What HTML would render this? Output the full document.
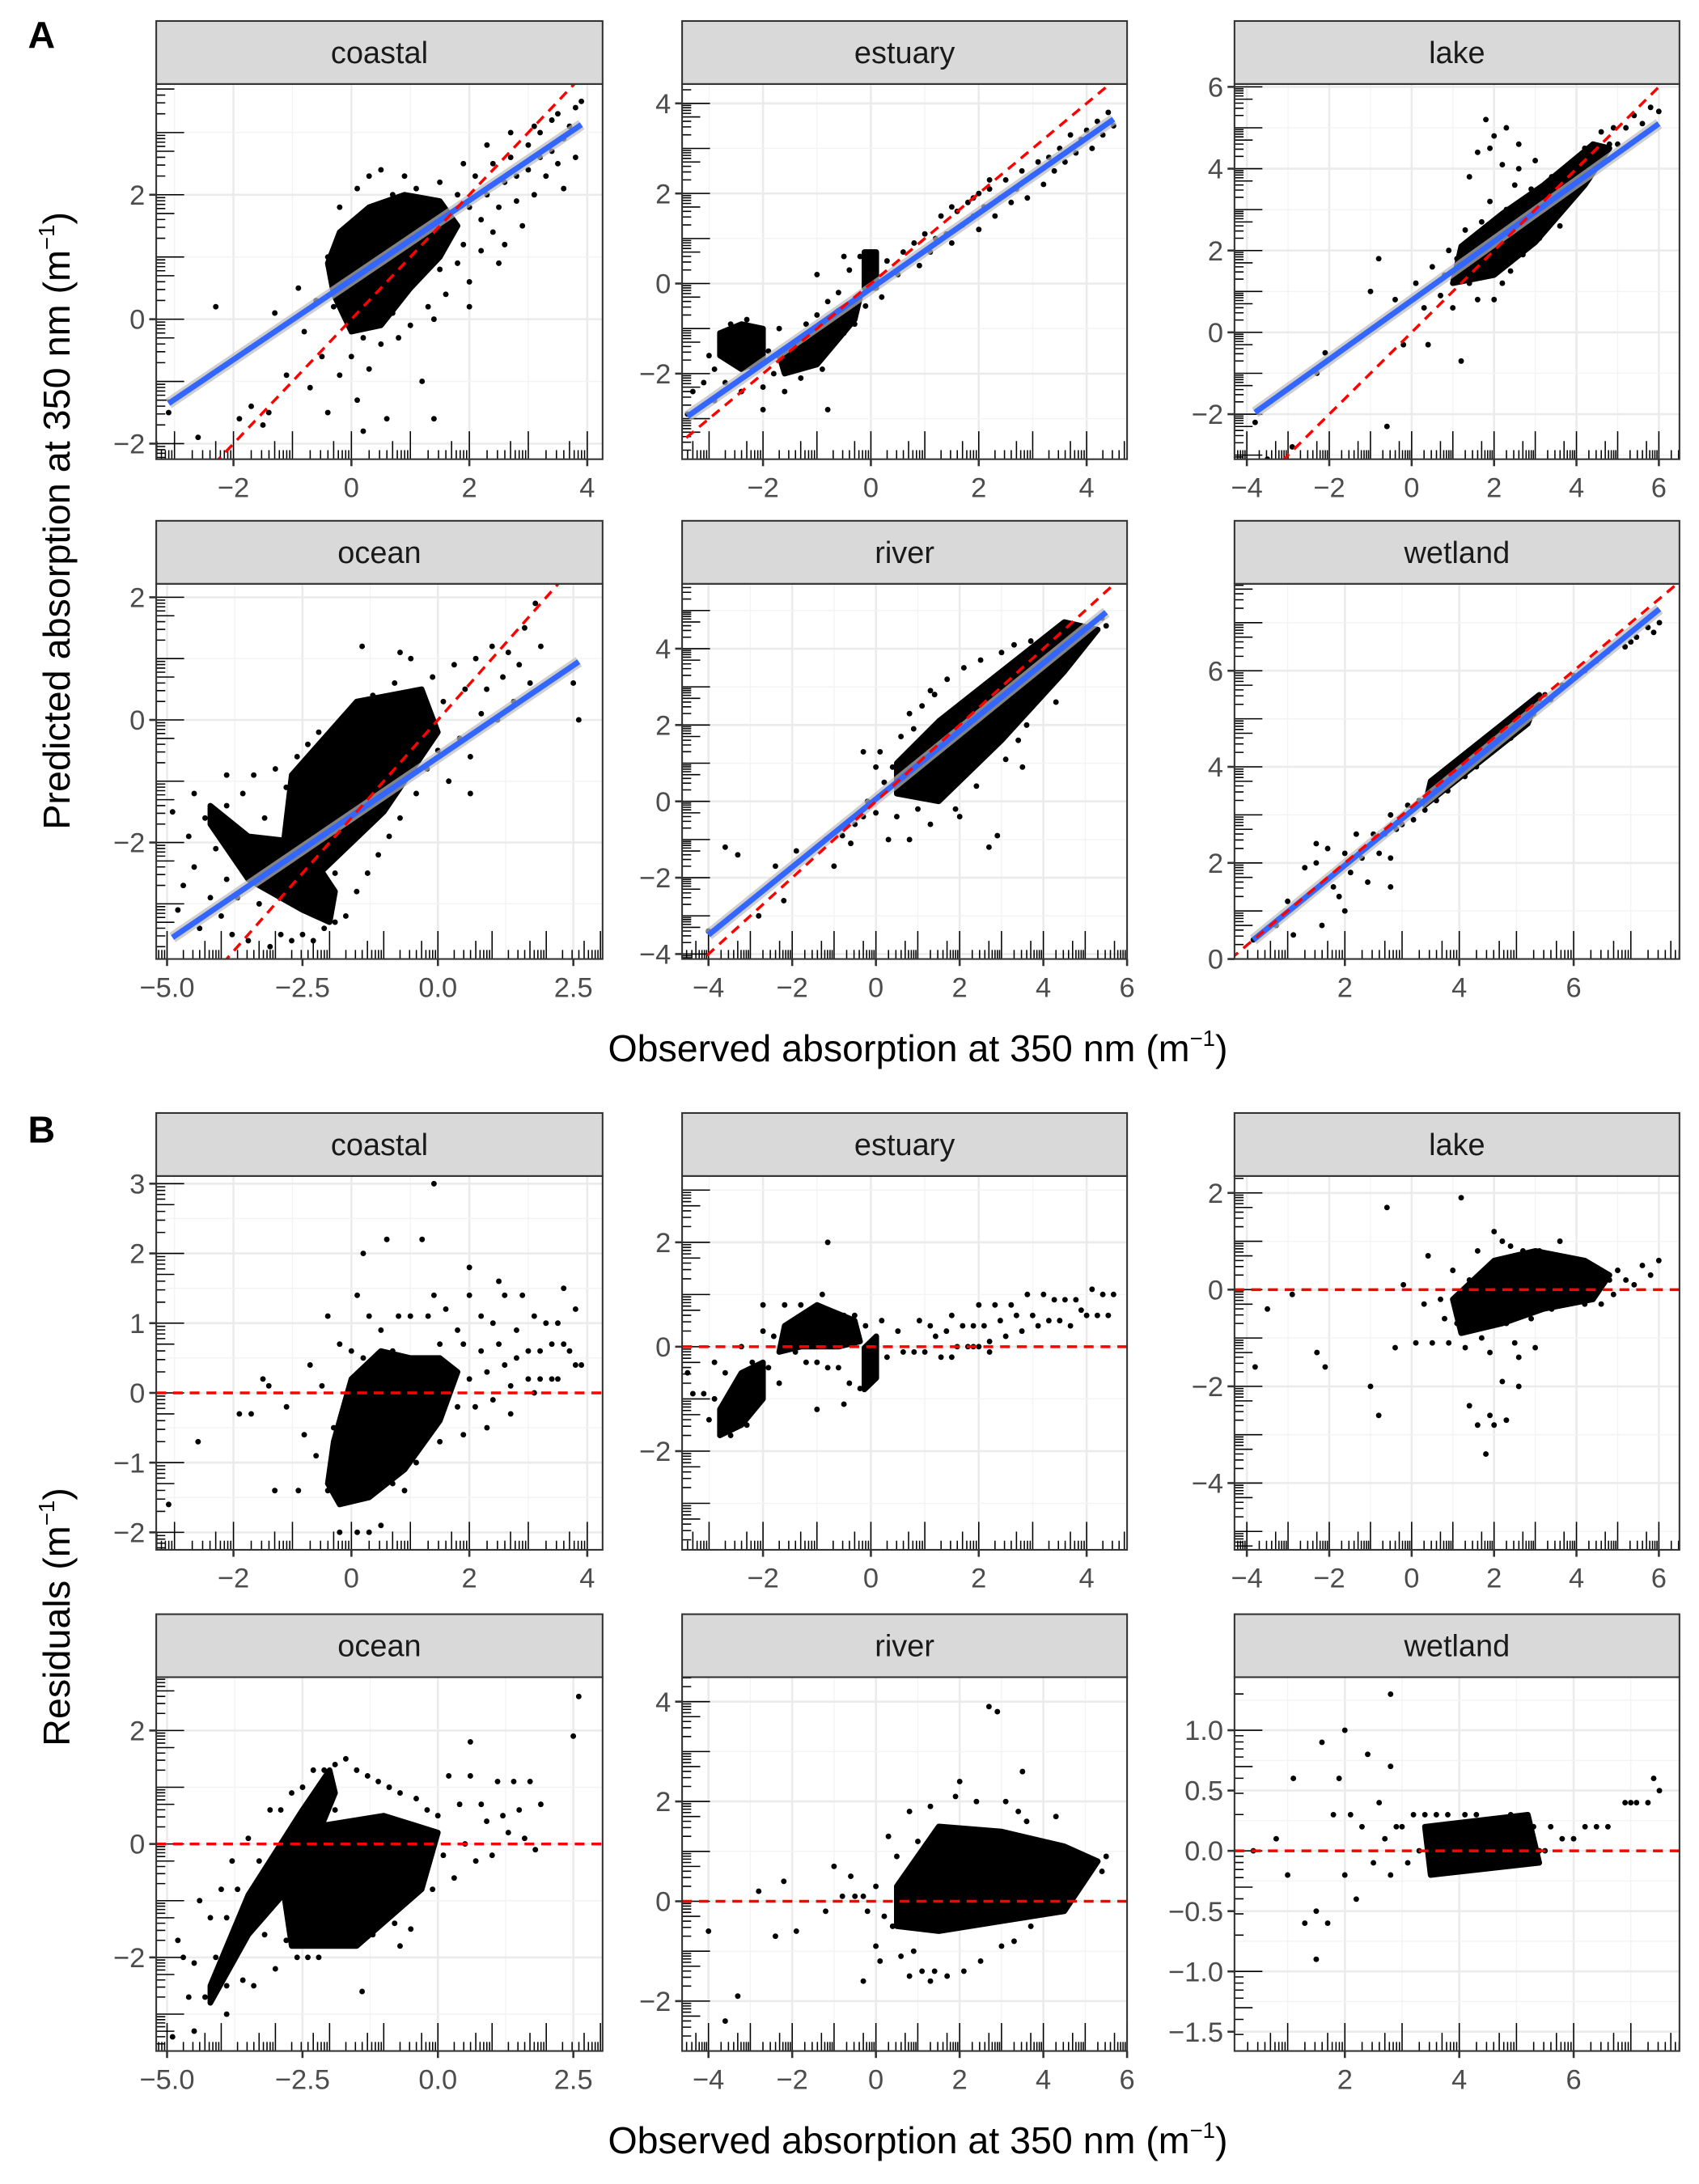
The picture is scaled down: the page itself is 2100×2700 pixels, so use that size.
<!DOCTYPE html>
<html><head><meta charset="utf-8">
<style>
html,body{margin:0;padding:0;background:#fff;width:2100px;height:2700px;overflow:hidden;}
svg{display:block;}
text{font-family:"Liberation Sans",sans-serif;}
</style></head>
<body>
<svg id="fig" width="2100" height="2700" viewBox="0 0 1218 1560" preserveAspectRatio="none" xmlns="http://www.w3.org/2000/svg">
<text x="20" y="34" font-size="27" font-weight="bold">A</text>
<text x="20" y="816" font-size="27" font-weight="bold">B</text>
<text x="658" y="758" font-size="27" text-anchor="middle">Observed absorption at 350 nm (m<tspan font-size="16" dy="-11">−1</tspan><tspan dy="11">)</tspan></text>
<text x="658" y="1538" font-size="27" text-anchor="middle">Observed absorption at 350 nm (m<tspan font-size="16" dy="-11">−1</tspan><tspan dy="11">)</tspan></text>
<text transform="translate(50,372) rotate(-90)" font-size="27" text-anchor="middle">Predicted absorption at 350 nm (m<tspan font-size="16" dy="-11">−1</tspan><tspan dy="11">)</tspan></text>
<text transform="translate(50,1155) rotate(-90)" font-size="27" text-anchor="middle">Residuals (m<tspan font-size="16" dy="-11">−1</tspan><tspan dy="11">)</tspan></text>
<g id="panels"></g>
</svg>
<script>
// ---- data (observed, predicted) ----
const categories = ["coastal","estuary","lake","ocean","river","wetland"];
const coastalPts = [[-3.1,-1.5],[-2.6,-1.9],[-2.3,0.2],[-1.9,-1.6],[-1.7,-1.4],[-1.5,-1.7],[-1.4,-1.5],[-1.3,0.1],[-1.1,-0.9],[-0.9,0.5],[-0.8,-0.2],[-0.7,-1.1],[-0.6,0.3],[-0.5,-0.6],[-0.4,1.0],[-0.4,-1.5],[-0.3,0.2],[-0.2,1.8],[-0.2,-0.9],[-0.1,0.4],[0,-0.6],[0,1.5],[0.1,-1.3],[0.1,2.1],[0.2,-0.3],[0.3,2.3],[0.3,-0.8],[0.4,0.0],[0.5,2.4],[0.5,-0.4],[0.6,-1.6],[0.7,2.0],[0.7,0.1],[0.8,-0.3],[0.9,2.3],[0.9,0.4],[1.0,-0.1],[1.1,2.1],[1.1,0.6],[1.2,-1.0],[1.3,0.2],[1.3,1.9],[1.4,-1.6],[1.5,0.8],[1.5,2.2],[1.6,0.4],[1.7,1.6],[1.8,0.9],[1.8,2.0],[1.9,1.2],[2.0,0.6],[2.0,1.8],[2.1,2.3],[2.2,1.1],[2.2,1.6],[2.3,2.0],[2.4,1.4],[2.4,2.5],[2.5,1.8],[2.6,2.2],[2.6,1.2],[2.7,2.6],[2.8,1.9],[2.8,2.3],[2.9,1.5],[3.0,2.4],[3.0,2.8],[3.1,2.0],[3.2,2.6],[3.2,3.0],[3.3,2.3],[3.4,2.7],[3.4,3.2],[3.5,2.5],[3.6,2.9],[3.6,2.1],[3.7,3.1],[3.8,2.6],[3.8,3.4],[3.9,3.5],[3.5,3.3],[3.1,3.1],[2.7,3.0],[2.3,2.8],[1.9,2.5],[1.6,1.2],[1.2,1.4],[0.8,1.4],[2.0,0.2],[2.5,0.9],[1.4,0.0],[0.2,-1.8]];
const estuaryPts = [[-3.4,-2.9],[-3.3,-2.4],[-3.1,-2.2],[-3.0,-1.6],[-2.9,-2.6],[-2.9,-1.9],[-2.8,-1.3],[-2.7,-2.2],[-2.6,-0.9],[-2.5,-1.6],[-2.4,-2.4],[-2.3,-0.8],[-2.2,-1.9],[-2.1,-1.2],[-2.0,-2.3],[-1.9,-1.5],[-1.8,-2.0],[-1.7,-1.0],[-1.6,-2.4],[-1.5,-1.8],[-1.4,-1.3],[-1.3,-2.1],[-1.2,-0.9],[-1.1,-1.6],[-1.0,-0.7],[-0.9,-1.9],[-0.8,-0.4],[-0.7,-1.3],[-0.6,-0.2],[-0.5,-1.1],[-0.4,0.3],[-0.3,-0.9],[-0.2,0.6],[-0.1,-0.5],[0,0.7],[0.1,0.2],[0.2,-0.3],[0.3,0.5],[0.5,0.2],[0.6,0.7],[0.8,0.9],[0.9,0.4],[1.0,1.1],[1.1,0.7],[1.2,1.0],[1.3,1.5],[1.4,1.1],[1.5,0.9],[1.6,1.6],[1.7,1.3],[1.8,1.8],[1.9,1.5],[2.0,2.0],[2.0,1.2],[2.1,1.7],[2.2,2.1],[2.3,1.5],[2.4,1.9],[2.5,2.3],[2.6,1.8],[2.7,2.1],[2.8,2.5],[2.9,1.9],[3.0,2.4],[3.1,2.7],[3.2,2.2],[3.3,2.8],[3.4,2.5],[3.5,3.0],[3.6,2.7],[3.7,3.3],[3.8,2.9],[3.9,3.2],[4.0,3.4],[4.1,3.0],[4.2,3.6],[4.3,3.3],[4.4,3.8],[4.5,3.5],[1.9,1.9],[2.2,2.3],[1.5,1.7],[-0.8,-2.8],[-2.0,-2.8],[-0.5,0.6],[-1.0,0.2]];
const lakePts = [[-3.8,-2.2],[-3.5,-3.1],[-2.9,-2.8],[-2.3,-1.0],[-2.1,-0.5],[-1.0,1.0],[-0.8,1.8],[-0.6,-2.3],[-0.4,0.8],[-0.2,-0.3],[0.1,1.2],[0.3,0.6],[0.5,1.6],[0.7,0.9],[0.8,1.4],[0.9,2.0],[1.0,0.6],[1.1,1.8],[1.2,-0.7],[1.3,2.5],[1.4,1.2],[1.4,3.8],[1.5,2.0],[1.6,4.4],[1.6,0.8],[1.7,2.7],[1.8,5.2],[1.8,1.5],[1.9,3.2],[2.0,4.8],[2.0,0.8],[2.1,2.3],[2.2,4.1],[2.2,1.2],[2.3,5.0],[2.3,3.0],[2.4,1.5],[2.5,3.6],[2.5,2.5],[2.6,4.6],[2.7,1.9],[2.7,3.1],[2.8,2.2],[2.9,3.5],[3.0,2.8],[3.0,4.2],[3.1,2.3],[3.2,3.4],[3.3,2.9],[3.4,3.8],[3.5,3.1],[3.6,2.6],[3.7,3.6],[3.8,3.9],[3.9,3.3],[4.0,4.2],[4.1,3.8],[4.2,4.5],[4.3,3.9],[4.4,4.6],[4.5,4.2],[4.6,4.9],[4.7,4.4],[4.8,4.6],[4.9,5.0],[5.0,4.6],[5.2,5.0],[5.4,5.3],[5.6,5.1],[5.8,5.5],[6.0,5.4],[0.4,-0.3],[2.6,4.0],[1.9,4.5]];
const oceanPts = [[-4.9,-1.5],[-4.8,-3.1],[-4.7,-2.7],[-4.6,-1.9],[-4.5,-2.4],[-4.4,-3.4],[-4.3,-1.6],[-4.2,-2.9],[-4.1,-2.1],[-4.0,-3.2],[-3.9,-1.4],[-3.9,-2.6],[-3.8,-3.5],[-3.7,-1.8],[-3.7,-2.9],[-3.6,-1.2],[-3.5,-3.6],[-3.5,-2.0],[-3.4,-0.9],[-3.3,-3.0],[-3.2,-1.6],[-3.1,-3.7],[-3.0,-0.8],[-2.9,-3.5],[-2.8,-1.1],[-2.7,-3.6],[-2.6,-0.6],[-2.5,-3.5],[-2.4,-0.4],[-2.3,-3.6],[-2.2,-0.2],[-2.1,-3.4],[-2.0,-0.9],[-1.9,-3.3],[-1.8,-0.3],[-1.7,-3.2],[-1.6,0.1],[-1.5,-2.8],[-1.4,-0.6],[-1.3,-2.5],[-1.2,0.4],[-1.1,-2.2],[-1.0,-0.1],[-0.9,-1.9],[-0.8,0.6],[-0.7,-1.6],[-0.6,-0.3],[-0.5,1.0],[-0.4,-1.2],[-0.3,0.2],[-0.2,-0.8],[-0.1,0.7],[0,-0.5],[0.1,0.3],[0.2,-1.0],[0.3,0.9],[0.4,-0.3],[0.5,0.5],[0.6,-0.6],[0.7,1.0],[0.8,0.1],[0.9,0.5],[1.0,1.2],[1.1,0.0],[1.2,0.7],[1.3,1.1],[1.4,0.3],[1.5,0.9],[1.6,1.5],[1.7,0.6],[1.8,1.9],[1.9,1.2],[2.5,0.6],[2.6,0.0],[-1.4,1.2],[-0.7,1.1],[-2.9,-2.2],[-3.3,-2.5],[-2.6,-2.8],[-1.9,-2.5],[-0.9,-1.0],[-1.6,-1.7],[-2.2,-1.3],[-1.1,-0.4],[0.6,-1.2],[-4.5,-1.2],[-3.9,-0.9]];
const riverPts = [[-4.0,-3.4],[-3.6,-1.2],[-3.3,-1.4],[-2.8,-3.0],[-2.4,-1.7],[-2.2,-2.6],[-1.9,-1.3],[-1.2,-1.0],[-1.0,-1.7],[-0.8,-0.9],[-0.6,-1.1],[-0.5,-0.6],[-0.3,-0.4],[-0.2,0.0],[0,-0.3],[0.1,1.3],[0.2,0.5],[0.3,-1.0],[0.4,0.9],[0.5,-0.4],[0.6,1.7],[0.7,0.3],[0.8,-1.0],[0.9,1.9],[1.0,-0.2],[1.1,2.5],[1.2,0.6],[1.3,-0.6],[1.4,2.8],[1.5,0.2],[1.6,1.4],[1.7,3.2],[1.8,0.6],[1.9,2.0],[2.0,-0.4],[2.1,3.5],[2.2,1.0],[2.3,2.6],[2.4,0.4],[2.5,3.7],[2.6,1.4],[2.7,-1.2],[2.8,3.0],[2.9,1.7],[3.0,3.9],[3.1,1.1],[3.2,2.4],[3.3,4.1],[3.4,1.6],[3.5,3.4],[3.6,2.0],[3.7,4.2],[3.8,2.6],[3.9,3.7],[4.0,3.0],[4.1,4.3],[4.2,3.4],[4.4,3.8],[4.6,4.2],[4.8,4.0],[5.0,4.5],[5.2,4.4],[5.4,4.8],[5.5,4.6],[2.9,-0.9],[1.9,-0.2],[3.5,0.9],[4.3,2.6],[0.0,0.9],[-0.3,1.3],[0.8,2.3],[1.3,2.9]];
const wetlandPts = [[0.4,0.4],[0.8,0.7],[1.0,1.2],[1.3,1.9],[1.5,2.0],[1.5,2.4],[1.7,2.3],[1.8,1.5],[1.9,1.3],[2.0,2.2],[2.1,1.8],[2.2,2.6],[2.3,2.1],[2.4,1.6],[2.5,2.6],[2.6,2.2],[2.7,2.6],[2.8,2.1],[2.8,3.0],[2.9,2.7],[3.0,2.8],[3.1,3.2],[3.2,2.9],[3.3,3.3],[3.4,3.1],[3.5,3.6],[3.6,3.3],[3.7,3.8],[3.8,3.5],[3.9,3.7],[4.0,4.0],[4.1,3.8],[4.2,4.2],[4.3,4.0],[4.4,4.4],[4.5,4.3],[4.6,4.6],[4.7,4.5],[4.8,4.8],[4.9,4.6],[5.0,5.0],[5.1,4.9],[5.2,5.2],[5.3,5.1],[5.4,5.4],[5.5,5.5],[5.6,5.4],[5.8,5.7],[6.0,5.9],[6.2,6.0],[6.4,6.2],[6.6,6.4],[6.9,6.5],[7.0,6.6],[7.1,6.7],[7.3,6.9],[7.5,7.0],[7.4,6.8],[1.1,0.5],[2.0,1.0],[2.8,1.5],[1.6,0.7]];
// dense-region outlines (observed, predicted)
const coastalCore = [[[-0.3,0.4],[0.0,-0.2],[0.5,-0.1],[1.0,0.5],[1.5,1.0],[1.8,1.5],[1.5,1.9],[0.9,2.0],[0.3,1.8],[-0.2,1.4],[-0.4,0.9]]];
const estuaryCore = [[[-2.8,-1.6],[-2.4,-1.9],[-2.0,-1.7],[-2.0,-1.0],[-2.4,-0.9],[-2.8,-1.1]],[[-1.6,-2.0],[-1.0,-1.8],[-0.3,-0.8],[-0.2,-0.3],[-0.6,-0.6],[-1.3,-1.3],[-1.7,-1.6]],[[-0.12,-0.1],[0.1,-0.1],[0.1,0.7],[-0.12,0.7]]];
const lakeCore = [[[1.0,1.2],[2.0,1.4],[3.0,2.2],[4.2,3.6],[4.8,4.5],[4.4,4.6],[3.2,3.6],[2.2,2.9],[1.2,2.1]]];
const oceanCore = [[[-4.2,-1.7],[-3.5,-2.6],[-2.5,-3.1],[-2.0,-3.3],[-1.9,-2.8],[-2.5,-2.0],[-3.5,-1.9],[-4.2,-1.4]],[[-2.7,-0.9],[-1.5,0.3],[-0.3,0.5],[0,-0.2],[-1.0,-1.5],[-2.3,-2.6],[-2.9,-2.4]]];
const riverCore = [[[0.5,0.2],[1.5,0.0],[3.0,1.6],[4.5,3.4],[5.3,4.5],[4.5,4.7],[3.0,3.4],[1.5,2.1],[0.5,1.0]]];
const wetlandCore = [[[3.4,3.2],[5.2,4.9],[5.4,5.5],[3.5,3.7]]];
// linear fits
const fitSlope = [0.64,0.835,0.72,0.6,0.89,0.97];
const fitIntercept = [0.63,-0.11,0.78,-0.61,0.06,0.01];
// axis limits and ticks
const xLims = [[-3.31,4.26],[-3.5,4.75],[-4.3,6.5],[-5.2,3.04],[-4.63,6.0],[0.07,7.85]];
const yLimsA = [[-2.25,3.78],[-3.9,4.43],[-3.1,6.07],[-3.9,2.22],[-4.13,5.7],[0,7.81]];
const yLimsB = [[-2.25,3.11],[-3.89,3.27],[-5.38,2.35],[-3.65,2.94],[-3.0,4.49],[-1.66,1.44]];
const xTicks = [[-2,0,2,4],[-2,0,2,4],[-4,-2,0,2,4,6],[-5,-2.5,0,2.5],[-4,-2,0,2,4,6],[2,4,6]];
const xTickLabels = [["−2","0","2","4"],["−2","0","2","4"],["−4","−2","0","2","4","6"],["−5.0","−2.5","0.0","2.5"],["−4","−2","0","2","4","6"],["2","4","6"]];
const yTicksA = [[-2,0,2],[-2,0,2,4],[-2,0,2,4,6],[-2,0,2],[-4,-2,0,2,4],[0,2,4,6]];
const yTickLabelsA = [["−2","0","2"],["−2","0","2","4"],["−2","0","2","4","6"],["−2","0","2"],["−4","−2","0","2","4"],["0","2","4","6"]];
const yTicksB = [[-2,-1,0,1,2,3],[-2,0,2],[-4,-2,0,2],[-2,0,2],[-2,0,2,4],[-1.5,-1,-0.5,0,0.5,1]];
const yTickLabelsB = [["−2","−1","0","1","2","3"],["−2","0","2"],["−4","−2","0","2"],["−2","0","2"],["−2","0","2","4"],["−1.5","−1.0","−0.5","0.0","0.5","1.0"]];

const allPts = [coastalPts,estuaryPts,lakePts,oceanPts,riverPts,wetlandPts];
const allCores = [coastalCore,estuaryCore,lakeCore,oceanCore,riverCore,wetlandCore];

// ---- layout ----
const colX = [[112,432],[489,808],[885,1204]];
const rowsA = [[60,328],[417,685]];
const rowsB = [[840,1107],[1198,1465]];
const NS = "http://www.w3.org/2000/svg";
const root = document.getElementById('panels');
function mk(tag, attrs, parent){ const e=document.createElementNS(NS,tag); for(const k in attrs) e.setAttribute(k,attrs[k]); (parent||root).appendChild(e); return e; }

function drawPanel(ci, part){
  const col = ci%3, row = Math.floor(ci/3);
  const [x0,x1] = colX[col];
  const [y0,y1] = (part==='A'?rowsA:rowsB)[row];
  const xl = xLims[ci], yl = part==='A'?yLimsA[ci]:yLimsB[ci];
  const xt = xTicks[ci], yt = part==='A'?yTicksA[ci]:yTicksB[ci];
  const xtl = xTickLabels[ci], ytl = part==='A'?yTickLabelsA[ci]:yTickLabelsB[ci];
  const sx = v => x0 + (v-xl[0])/(xl[1]-xl[0])*(x1-x0);
  const sy = v => y1 - (v-yl[0])/(yl[1]-yl[0])*(y1-y0);
  const g = mk('g',{});
  
  
  const cid = 'clip'+part+ci;
  const cp = mk('clipPath',{id:cid},g); mk('rect',{x:x0,y:y0,width:x1-x0,height:y1-y0},cp);
  const bg = mk('rect',{x:x0,y:y0,width:x1-x0,height:y1-y0,fill:'#fff'},g);
   
  const gg = mk('g',{'clip-path':'url(#'+cid+')'},g);
   
  const xs = xt[1]-xt[0], ys = yt[1]-yt[0];
  for(let v=xt[0]-xs*3; v<=xl[1]+xs; v+=xs/2){ const major = Math.abs(((v-xt[0])/xs)%1)<1e-6;
    mk('line',{x1:sx(v),x2:sx(v),y1:y0,y2:y1,stroke:major?'#ebebeb':'#f3f3f3','stroke-width':major?1.5:0.8},gg); }
  for(let v=yt[0]-ys*3; v<=yl[1]+ys; v+=ys/2){ const major = Math.abs(((v-yt[0])/ys)%1)<1e-6;
    mk('line',{y1:sy(v),y2:sy(v),x1:x0,x2:x1,stroke:major?'#ebebeb':'#f3f3f3','stroke-width':major?1.5:0.8},gg); }
  const lt = mk('g',{'clip-path':'url(#'+cid+')',stroke:'#000','stroke-width':0.9},g);
   
  const subs=[[0,20],[Math.log10(2),6.5],[Math.log10(3),6.5],[Math.log10(4),6.5],[Math.log10(5),13],[Math.log10(6),6.5],[Math.log10(7),6.5],[Math.log10(8),6.5],[Math.log10(9),6.5]];
  for(let k=Math.floor(xl[0])-1;k<=Math.ceil(xl[1]);k++) for(const [o,L] of subs){ const v=k+o; if(v<xl[0]||v>xl[1]) continue; mk('line',{x1:sx(v),x2:sx(v),y1:y1,y2:y1-L},lt); }
  for(let k=Math.floor(yl[0])-1;k<=Math.ceil(yl[1]);k++) for(const [o,L] of subs){ const v=k+o; if(v<yl[0]||v>yl[1]) continue; mk('line',{y1:sy(v),y2:sy(v),x1:x0,x2:x0+L},lt); }
  const dl = mk('g',{'clip-path':'url(#'+cid+')'},g);
  const tf = part==='A' ? (p=>[p[0],p[1]]) : (p=>[p[0],p[0]-p[1]]);
  for(const poly of allCores[ci]){
    const pts = poly.map(p=>{const q=tf(p); return sx(q[0]).toFixed(1)+','+sy(q[1]).toFixed(1);}).join(' ');
    const pg = mk('polygon',{points:pts,fill:'#000',stroke:'#000','stroke-width':4,'stroke-linejoin':'round'},dl);
     
  }
  for(const p of allPts[ci]){ const q=tf(p);
    const c = mk('circle',{cx:sx(q[0]).toFixed(1),cy:sy(q[1]).toFixed(1),r:2,fill:'#000'},dl);
      }
  if(part==='A'){
    const xs0 = Math.min(...allPts[ci].map(p=>p[0])), xs1 = Math.max(...allPts[ci].map(p=>p[0]));
    const f = v => fitSlope[ci]*v+fitIntercept[ci];
    const rib = mk('line',{x1:sx(xs0),y1:sy(f(xs0)),x2:sx(xs1),y2:sy(f(xs1)),stroke:'#bbbbbb','stroke-width':8,opacity:0.7},dl);
     
    const bl = mk('line',{x1:sx(xs0),y1:sy(f(xs0)),x2:sx(xs1),y2:sy(f(xs1)),stroke:'#3366ff','stroke-width':4},dl);
     
    const lo = Math.min(xl[0],yl[0]), hi = Math.max(xl[1],yl[1]);
    const rl = mk('line',{x1:sx(lo),y1:sy(lo),x2:sx(hi),y2:sy(hi),stroke:'#ff0000','stroke-width':2,'stroke-dasharray':'7,5'},dl);
     
  } else {
    const rl = mk('line',{x1:x0,y1:sy(0),x2:x1,y2:sy(0),stroke:'#ff0000','stroke-width':2,'stroke-dasharray':'7,5'},dl);
     
  }
  const bd = mk('rect',{x:x0,y:y0,width:x1-x0,height:y1-y0,fill:'none',stroke:'#333','stroke-width':1.2},g);
   
  const st = mk('rect',{x:x0,y:y0-45,width:x1-x0,height:45,fill:'#d9d9d9',stroke:'#333','stroke-width':1.2},g);
   
  const stt = mk('text',{x:(x0+x1)/2,y:y0-15,'font-size':22,'text-anchor':'middle',fill:'#1a1a1a'},g);
  stt.textContent = categories[ci];
   
  xt.forEach((v,i)=>{ mk('line',{x1:sx(v),x2:sx(v),y1:y1,y2:y1+5,stroke:'#333','stroke-width':1.5},g);
    const t = mk('text',{x:sx(v),y:y1+27,'font-size':20,'text-anchor':'middle',fill:'#4d4d4d'},g);
    t.textContent = xtl[i];   });
  yt.forEach((v,i)=>{ mk('line',{x1:x0-5,x2:x0,y1:sy(v),y2:sy(v),stroke:'#333','stroke-width':1.5},g);
    const t = mk('text',{x:x0-8,y:sy(v)+7,'font-size':20,'text-anchor':'end',fill:'#4d4d4d'},g);
    t.textContent = ytl[i];   });
}
for(let i=0;i<6;i++){ drawPanel(i,'A'); drawPanel(i,'B'); }
</script>
</body></html>
